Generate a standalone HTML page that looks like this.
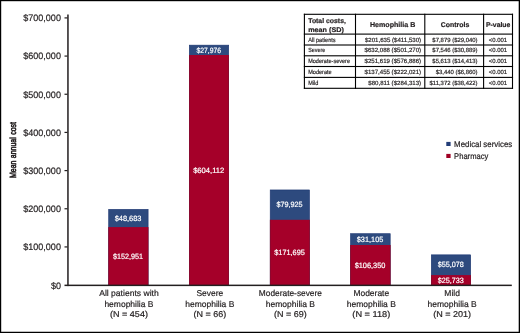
<!DOCTYPE html>
<html><head><meta charset="utf-8"><title>Mean annual cost</title><style>
html,body{margin:0;padding:0;background:#fff}
svg{display:block}
text{font-family:"Liberation Sans",sans-serif;text-rendering:geometricPrecision;fill:#231f20;stroke:#231f20;stroke-width:.2px}
.w{fill:#fff;stroke:#fff;stroke-width:.2px}
.b{font-weight:bold;stroke-width:.2px}
.t{stroke-width:.18px}
</style></head><body>
<svg width="520" height="333" viewBox="0 0 520 333">
<rect x="0" y="0" width="520" height="333" fill="#fff"/>

<rect x="0" y="0" width="520" height="1.2" fill="#000"/>
<rect x="0" y="0" width="1.2" height="333" fill="#000"/>
<rect x="518.7" y="0" width="1.3" height="333" fill="#000"/>
<rect x="0" y="331.75" width="520" height="1.25" fill="#000"/>
<rect x="108.70" y="209.35" width="39.40" height="75.95" fill="#2d4a7e" stroke="#1a3470" stroke-width="0.6"/>
<rect x="108.70" y="227.10" width="39.40" height="58.20" fill="#a50029"/>
<rect x="108.40" y="227.10" width="0.6" height="58.20" fill="#8e0024"/>
<rect x="147.80" y="227.10" width="0.6" height="58.20" fill="#8e0024"/>
<text class="w" x="128.10" y="258.85" font-size="7.6" text-anchor="middle" textLength="30.0" lengthAdjust="spacingAndGlyphs">$152,951</text>
<text class="w" x="128.10" y="220.72" font-size="7.6" text-anchor="middle" textLength="26.8" lengthAdjust="spacingAndGlyphs">$48,683</text>
<rect x="189.30" y="45.15" width="39.40" height="240.15" fill="#2d4a7e" stroke="#1a3470" stroke-width="0.6"/>
<rect x="189.30" y="55.00" width="39.40" height="230.30" fill="#a50029"/>
<rect x="189.00" y="55.00" width="0.6" height="230.30" fill="#8e0024"/>
<rect x="228.40" y="55.00" width="0.6" height="230.30" fill="#8e0024"/>
<text class="w" x="208.70" y="172.80" font-size="7.6" text-anchor="middle" textLength="31.1" lengthAdjust="spacingAndGlyphs">$604,112</text>
<text class="w" x="208.70" y="52.57" font-size="7.6" text-anchor="middle" textLength="24.5" lengthAdjust="spacingAndGlyphs">$27,976</text>
<rect x="270.20" y="189.95" width="39.30" height="95.35" fill="#2d4a7e" stroke="#1a3470" stroke-width="0.6"/>
<rect x="270.20" y="219.80" width="39.30" height="65.50" fill="#a50029"/>
<rect x="269.90" y="219.80" width="0.6" height="65.50" fill="#8e0024"/>
<rect x="309.20" y="219.80" width="0.6" height="65.50" fill="#8e0024"/>
<text class="w" x="289.55" y="255.20" font-size="7.6" text-anchor="middle" textLength="30.5" lengthAdjust="spacingAndGlyphs">$171,695</text>
<text class="w" x="289.55" y="207.38" font-size="7.6" text-anchor="middle" textLength="26.2" lengthAdjust="spacingAndGlyphs">$79,925</text>
<rect x="350.50" y="233.70" width="39.70" height="51.60" fill="#2d4a7e" stroke="#1a3470" stroke-width="0.6"/>
<rect x="350.50" y="245.00" width="39.70" height="40.30" fill="#a50029"/>
<rect x="350.20" y="245.00" width="0.6" height="40.30" fill="#8e0024"/>
<rect x="389.90" y="245.00" width="0.6" height="40.30" fill="#8e0024"/>
<text class="w" x="370.05" y="267.80" font-size="7.6" text-anchor="middle" textLength="30.8" lengthAdjust="spacingAndGlyphs">$106,350</text>
<text class="w" x="370.05" y="241.85" font-size="7.6" text-anchor="middle" textLength="26.5" lengthAdjust="spacingAndGlyphs">$31,105</text>
<rect x="431.30" y="254.85" width="39.40" height="30.45" fill="#2d4a7e" stroke="#1a3470" stroke-width="0.6"/>
<rect x="431.30" y="275.10" width="39.40" height="10.20" fill="#a50029"/>
<rect x="431.00" y="275.10" width="0.6" height="10.20" fill="#8e0024"/>
<rect x="470.40" y="275.10" width="0.6" height="10.20" fill="#8e0024"/>
<text class="w" x="450.70" y="282.85" font-size="7.6" text-anchor="middle" textLength="26.1" lengthAdjust="spacingAndGlyphs">$25,733</text>
<text class="w" x="450.70" y="267.48" font-size="7.6" text-anchor="middle" textLength="26.1" lengthAdjust="spacingAndGlyphs">$55,078</text>
<rect x="67.2" y="14.5" width="1.5" height="271.60" fill="#231f20"/>
<rect x="64.5" y="284.60" width="447.3" height="1.5" fill="#231f20"/>
<rect x="64.5" y="246.33" width="3" height="1.2" fill="#231f20"/>
<rect x="64.5" y="208.16" width="3" height="1.2" fill="#231f20"/>
<rect x="64.5" y="169.99" width="3" height="1.2" fill="#231f20"/>
<rect x="64.5" y="131.82" width="3" height="1.2" fill="#231f20"/>
<rect x="64.5" y="93.65" width="3" height="1.2" fill="#231f20"/>
<rect x="64.5" y="55.48" width="3" height="1.2" fill="#231f20"/>
<rect x="64.5" y="17.31" width="3" height="1.2" fill="#231f20"/>
<text x="60.9" y="288.60" font-size="9.4" style="stroke-width:.2px" text-anchor="end" textLength="10.0" lengthAdjust="spacingAndGlyphs">$0</text>
<text x="60.9" y="250.18" font-size="9.4" style="stroke-width:.2px" text-anchor="end" textLength="37.6" lengthAdjust="spacingAndGlyphs">$100,000</text>
<text x="60.9" y="212.01" font-size="9.4" style="stroke-width:.2px" text-anchor="end" textLength="37.6" lengthAdjust="spacingAndGlyphs">$200,000</text>
<text x="60.9" y="173.84" font-size="9.4" style="stroke-width:.2px" text-anchor="end" textLength="37.6" lengthAdjust="spacingAndGlyphs">$300,000</text>
<text x="60.9" y="135.67" font-size="9.4" style="stroke-width:.2px" text-anchor="end" textLength="37.6" lengthAdjust="spacingAndGlyphs">$400,000</text>
<text x="60.9" y="97.50" font-size="9.4" style="stroke-width:.2px" text-anchor="end" textLength="37.6" lengthAdjust="spacingAndGlyphs">$500,000</text>
<text x="60.9" y="59.33" font-size="9.4" style="stroke-width:.2px" text-anchor="end" textLength="37.6" lengthAdjust="spacingAndGlyphs">$600,000</text>
<text x="60.9" y="21.16" font-size="9.4" style="stroke-width:.2px" text-anchor="end" textLength="37.6" lengthAdjust="spacingAndGlyphs">$700,000</text>
<text transform="translate(16.2,178) rotate(-90)" font-size="9" style="stroke-width:.6px;word-spacing:.7px" textLength="56" lengthAdjust="spacingAndGlyphs">Mean annual cost</text>
<text x="128.95" y="296.20" font-size="8.5" text-anchor="middle" textLength="59.5" lengthAdjust="spacingAndGlyphs">All patients with</text>
<text x="128.95" y="306.60" font-size="8.5" text-anchor="middle" textLength="49.1" lengthAdjust="spacingAndGlyphs">hemophilia B</text>
<text x="128.95" y="317.00" font-size="8.5" text-anchor="middle" textLength="38.0" lengthAdjust="spacingAndGlyphs">(N = 454)</text>
<text x="209.8" y="296.20" font-size="8.5" text-anchor="middle" textLength="26.7" lengthAdjust="spacingAndGlyphs">Severe</text>
<text x="209.8" y="306.60" font-size="8.5" text-anchor="middle" textLength="49.1" lengthAdjust="spacingAndGlyphs">hemophilia B</text>
<text x="209.8" y="317.00" font-size="8.5" text-anchor="middle" textLength="32.7" lengthAdjust="spacingAndGlyphs">(N = 66)</text>
<text x="290.4" y="296.20" font-size="8.5" text-anchor="middle" textLength="63.1" lengthAdjust="spacingAndGlyphs">Moderate-severe</text>
<text x="290.4" y="306.60" font-size="8.5" text-anchor="middle" textLength="49.1" lengthAdjust="spacingAndGlyphs">hemophilia B</text>
<text x="290.4" y="317.00" font-size="8.5" text-anchor="middle" textLength="32.7" lengthAdjust="spacingAndGlyphs">(N = 69)</text>
<text x="371.3" y="296.20" font-size="8.5" text-anchor="middle" textLength="35.8" lengthAdjust="spacingAndGlyphs">Moderate</text>
<text x="371.3" y="306.60" font-size="8.5" text-anchor="middle" textLength="49.1" lengthAdjust="spacingAndGlyphs">hemophilia B</text>
<text x="371.3" y="317.00" font-size="8.5" text-anchor="middle" textLength="37.9" lengthAdjust="spacingAndGlyphs">(N = 118)</text>
<text x="452.1" y="296.20" font-size="8.5" text-anchor="middle" textLength="15.6" lengthAdjust="spacingAndGlyphs">Mild</text>
<text x="452.1" y="306.60" font-size="8.5" text-anchor="middle" textLength="49.1" lengthAdjust="spacingAndGlyphs">hemophilia B</text>
<text x="452.1" y="317.00" font-size="8.5" text-anchor="middle" textLength="37.9" lengthAdjust="spacingAndGlyphs">(N = 201)</text>
<rect x="446.3" y="141.9" width="4.3" height="4.1" fill="#223d78"/>
<rect x="446.3" y="153.9" width="4.3" height="4.1" fill="#a00024"/>
<text x="454.1" y="146.7" font-size="8.3" textLength="58.1" lengthAdjust="spacingAndGlyphs">Medical services</text>
<text x="454.1" y="158.8" font-size="8.3" textLength="34.2" lengthAdjust="spacingAndGlyphs">Pharmacy</text>
<rect x="303.85" y="13.75" width="209.20" height="1.1" fill="#000"/>
<rect x="303.85" y="33.55" width="209.20" height="1.1" fill="#000"/>
<rect x="303.85" y="44.45" width="209.20" height="1.1" fill="#000"/>
<rect x="303.85" y="55.25" width="209.20" height="1.1" fill="#000"/>
<rect x="303.85" y="65.95" width="209.20" height="1.1" fill="#000"/>
<rect x="303.85" y="76.85" width="209.20" height="1.1" fill="#000"/>
<rect x="303.85" y="87.75" width="209.20" height="1.1" fill="#000"/>
<rect x="303.85" y="13.75" width="1.1" height="75.10" fill="#000"/>
<rect x="354.95" y="13.75" width="1.1" height="75.10" fill="#000"/>
<rect x="424.25" y="13.75" width="1.1" height="75.10" fill="#000"/>
<rect x="483.05" y="13.75" width="1.1" height="75.10" fill="#000"/>
<rect x="511.95" y="13.75" width="1.1" height="75.10" fill="#000"/>
<text class="b" x="308.2" y="23.2" font-size="6.75" textLength="37.7" lengthAdjust="spacingAndGlyphs">Total costs,</text>
<text class="b" x="308.2" y="31.7" font-size="6.75" textLength="35.6" lengthAdjust="spacingAndGlyphs">mean (SD)</text>
<text class="b" x="392.6" y="27.3" font-size="7.1" text-anchor="middle">Hemophilia B</text>
<text class="b" x="455.1" y="27.3" font-size="6.95" text-anchor="middle">Controls</text>
<text class="b" x="498.2" y="27.3" font-size="6.85" text-anchor="middle">P-value</text>
<text class="t" x="308.2" y="41.50" font-size="6.1" textLength="27.5" lengthAdjust="spacingAndGlyphs">All patients</text>
<text class="t" x="421.1" y="41.50" font-size="6.1" text-anchor="end">$201,635 ($411,530)</text>
<text class="t" x="477.6" y="41.50" font-size="5.95" text-anchor="end">$7,879 ($29,040)</text>
<text class="t" x="498" y="41.50" font-size="5.95" text-anchor="middle">&lt;0.001</text>
<text class="t" x="308.2" y="52.30" font-size="6.1" textLength="17.0" lengthAdjust="spacingAndGlyphs">Severe</text>
<text class="t" x="421.1" y="52.30" font-size="6.1" text-anchor="end">$632,088 ($501,270)</text>
<text class="t" x="477.6" y="52.30" font-size="5.95" text-anchor="end">$7,546 ($30,889)</text>
<text class="t" x="498" y="52.30" font-size="5.95" text-anchor="middle">&lt;0.001</text>
<text class="t" x="308.2" y="63.00" font-size="6.1" textLength="41.8" lengthAdjust="spacingAndGlyphs">Moderate-severe</text>
<text class="t" x="421.1" y="63.00" font-size="6.1" text-anchor="end">$251,619 ($576,886)</text>
<text class="t" x="477.6" y="63.00" font-size="5.95" text-anchor="end">$5,613 ($14,413)</text>
<text class="t" x="498" y="63.00" font-size="5.95" text-anchor="middle">&lt;0.001</text>
<text class="t" x="308.2" y="73.90" font-size="6.1" textLength="23.5" lengthAdjust="spacingAndGlyphs">Moderate</text>
<text class="t" x="421.1" y="73.90" font-size="6.1" text-anchor="end">$137,455 ($222,021)</text>
<text class="t" x="477.6" y="73.90" font-size="5.95" text-anchor="end">$3,440 ($6,860)</text>
<text class="t" x="498" y="73.90" font-size="5.95" text-anchor="middle">&lt;0.001</text>
<text class="t" x="308.2" y="84.80" font-size="6.1" textLength="10.2" lengthAdjust="spacingAndGlyphs">Mild</text>
<text class="t" x="421.1" y="84.80" font-size="6.1" text-anchor="end">$80,811 ($284,313)</text>
<text class="t" x="477.6" y="84.80" font-size="5.95" text-anchor="end">$11,372 ($38,422)</text>
<text class="t" x="498" y="84.80" font-size="5.95" text-anchor="middle">&lt;0.001</text>
</svg></body></html>
